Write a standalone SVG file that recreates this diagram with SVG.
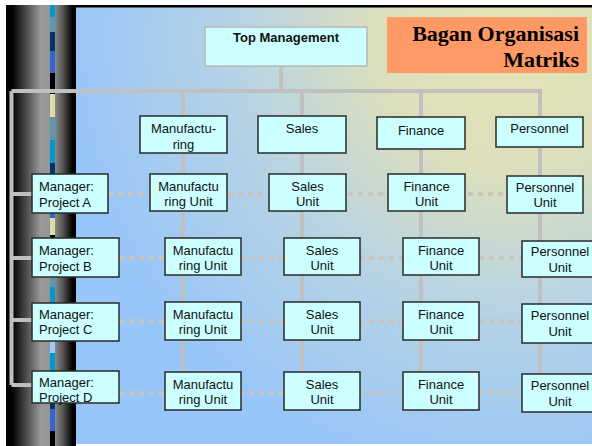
<svg xmlns="http://www.w3.org/2000/svg" width="592" height="446" viewBox="0 0 592 446">
<style>
.box{fill:#ccffff;stroke:#2a2a2a;stroke-width:1.5}
.tm{fill:#ccffff;stroke:#b8b8b8;stroke-width:1.5}
.t{font-family:"Liberation Sans",Arial,sans-serif;font-size:13px;fill:#111}
.c{text-anchor:middle}
.b{font-weight:bold}
.solid{stroke:#c0c0c0;stroke-width:4;fill:none}
.dot{stroke:#c9c5bd;stroke-width:4;stroke-dasharray:5 5;fill:none}
.title{font-family:"Liberation Serif","Times New Roman",serif;font-size:22px;font-weight:bold;fill:#000;text-anchor:end}
</style>
<defs>
<radialGradient id="bg" gradientUnits="userSpaceOnUse" cx="510" cy="40" r="440">
<stop offset="0" stop-color="#e6e4b4"/>
<stop offset="0.3" stop-color="#dcdfbc"/>
<stop offset="0.6" stop-color="#b8d4e4"/>
<stop offset="1" stop-color="#98c6f8"/>
</radialGradient>
<linearGradient id="pillar" x1="0" y1="0" x2="1" y2="0">
<stop offset="0" stop-color="#000"/>
<stop offset="0.1" stop-color="#050505"/>
<stop offset="0.5" stop-color="#9a9a9a"/>
<stop offset="0.68" stop-color="#939393"/>
<stop offset="0.82" stop-color="#505050"/>
<stop offset="0.95" stop-color="#000"/>
<stop offset="1" stop-color="#000"/>
</linearGradient>
</defs>

<!-- background -->
<rect x="0" y="0" width="592" height="446" fill="#ffffff"/>
<rect x="76" y="7" width="516" height="437" fill="url(#bg)"/>
<rect x="76" y="5" width="516" height="2.5" fill="#000"/>
<rect x="6" y="5" width="70" height="441" fill="url(#pillar)"/>
<g id="stripe">
<rect x="50" y="5" width="5" height="12" fill="#0099cc"/>
<rect x="50" y="17" width="5" height="15" fill="#5b97b0"/>
<rect x="50" y="32" width="5" height="19" fill="#003366"/>
<rect x="50" y="51" width="5" height="22" fill="#3366cc"/>
<rect x="50" y="73" width="5" height="21" fill="#000"/>
<rect x="50" y="94" width="5" height="23" fill="#dddda8"/>
<rect x="50" y="117" width="5" height="23" fill="#5b97b0"/>
<rect x="50" y="140" width="5" height="23" fill="#0099cc"/>
<rect x="50" y="163" width="5" height="20" fill="#003366"/>
<rect x="50" y="183" width="5" height="35" fill="#3366cc"/>
<rect x="50" y="218" width="5" height="17" fill="#dddda8"/>
<rect x="50" y="235" width="5" height="42" fill="#000"/>
<rect x="50" y="277" width="5" height="10" fill="#5b97b0"/>
<rect x="50" y="287" width="5" height="54" fill="#0099cc"/>
<rect x="50" y="341" width="5" height="12" fill="#99ccff"/>
<rect x="50" y="353" width="5" height="50" fill="#0099cc"/>
<rect x="50" y="403" width="5" height="6" fill="#003366"/>
<rect x="50" y="409" width="5" height="22" fill="#3366cc"/>
<rect x="50" y="431" width="5" height="15" fill="#000"/>
</g>

<g id="connectors">
<path class="solid" d="M281 66V91M11.5 91H542M183 91V372M302 91V372M421 91V372M540 91V374"/>
<path class="solid" d="M11.5 91V385M11.5 194H32M11.5 258H32M11.5 320H32M11.5 385H32" stroke-width="3.5"/>
<path class="dot" d="M108 194H507M119 258H522M119 321H522M119 393H522"/>
</g>

<g id="title">
<rect x="387" y="17" width="200" height="56" fill="#ff9966"/>
<text class="title" x="579" y="41">Bagan Organisasi</text>
<text class="title" x="579" y="67">Matriks</text>
</g>

<g id="top-management">
<rect class="tm" x="205" y="27" width="162" height="39"/>
<text class="t c b" x="286" y="42">Top Management</text>
</g>

<g id="hdr-manufacturing"><rect class="box" x="140" y="116" width="87" height="37"/><text class="t c" x="183.5" y="133">Manufactu-</text><text class="t c" x="183.5" y="149">ring</text></g>
<g id="hdr-sales"><rect class="box" x="258" y="116" width="88" height="37"/><text class="t c" x="302" y="133">Sales</text></g>
<g id="hdr-finance"><rect class="box" x="377" y="117" width="88" height="32"/><text class="t c" x="421" y="135">Finance</text></g>
<g id="hdr-personnel"><rect class="box" x="496" y="117" width="87" height="30"/><text class="t c" x="539.5" y="133">Personnel</text></g>

<g id="mgr-a"><rect class="box" x="32" y="174" width="76" height="39"/><text class="t" x="39" y="191">Manager:</text><text class="t" x="39" y="207">Project A</text></g>
<g id="mgr-b"><rect class="box" x="32" y="238" width="87" height="39"/><text class="t" x="39" y="255">Manager:</text><text class="t" x="39" y="271">Project B</text></g>
<g id="mgr-c"><rect class="box" x="32" y="303" width="87" height="38"/><text class="t" x="39" y="319">Manager:</text><text class="t" x="39" y="334">Project C</text></g>
<g id="mgr-d"><rect class="box" x="32" y="371" width="87" height="32"/><text class="t" x="39" y="387">Manager:</text><text class="t" x="39" y="402">Project D</text></g>

<g id="a-mfg"><rect class="box" x="150" y="174" width="77" height="37"/><text class="t c" x="188.5" y="191">Manufactu</text><text class="t c" x="188.5" y="206">ring Unit</text></g>
<g id="a-sales"><rect class="box" x="269" y="174" width="77" height="37"/><text class="t c" x="307.5" y="191">Sales</text><text class="t c" x="307.5" y="206">Unit</text></g>
<g id="a-fin"><rect class="box" x="388" y="174" width="77" height="37"/><text class="t c" x="426.5" y="191">Finance</text><text class="t c" x="426.5" y="206">Unit</text></g>
<g id="a-pers"><rect class="box" x="507" y="176" width="76" height="37"/><text class="t c" x="545" y="192">Personnel</text><text class="t c" x="545" y="207">Unit</text></g>

<g id="b-mfg"><rect class="box" x="165" y="238" width="76" height="37"/><text class="t c" x="203" y="255">Manufactu</text><text class="t c" x="203" y="270">ring Unit</text></g>
<g id="b-sales"><rect class="box" x="284" y="238" width="76" height="37"/><text class="t c" x="322" y="255">Sales</text><text class="t c" x="322" y="270">Unit</text></g>
<g id="b-fin"><rect class="box" x="403" y="238" width="76" height="37"/><text class="t c" x="441" y="255">Finance</text><text class="t c" x="441" y="270">Unit</text></g>
<g id="b-pers"><rect class="box" x="522" y="241" width="78" height="36"/><text class="t c" x="560" y="256">Personnel</text><text class="t c" x="560" y="272">Unit</text></g>

<g id="c-mfg"><rect class="box" x="165" y="302" width="76" height="38"/><text class="t c" x="203" y="319">Manufactu</text><text class="t c" x="203" y="334">ring Unit</text></g>
<g id="c-sales"><rect class="box" x="284" y="302" width="76" height="38"/><text class="t c" x="322" y="319">Sales</text><text class="t c" x="322" y="334">Unit</text></g>
<g id="c-fin"><rect class="box" x="403" y="302" width="76" height="38"/><text class="t c" x="441" y="319">Finance</text><text class="t c" x="441" y="334">Unit</text></g>
<g id="c-pers"><rect class="box" x="522" y="304" width="78" height="39"/><text class="t c" x="560" y="320">Personnel</text><text class="t c" x="560" y="336">Unit</text></g>

<g id="d-mfg"><rect class="box" x="165" y="372" width="76" height="38"/><text class="t c" x="203" y="389">Manufactu</text><text class="t c" x="203" y="404">ring Unit</text></g>
<g id="d-sales"><rect class="box" x="284" y="372" width="76" height="38"/><text class="t c" x="322" y="389">Sales</text><text class="t c" x="322" y="404">Unit</text></g>
<g id="d-fin"><rect class="box" x="403" y="372" width="76" height="38"/><text class="t c" x="441" y="389">Finance</text><text class="t c" x="441" y="404">Unit</text></g>
<g id="d-pers"><rect class="box" x="522" y="374" width="78" height="38"/><text class="t c" x="560" y="390">Personnel</text><text class="t c" x="560" y="406">Unit</text></g>
</svg>
